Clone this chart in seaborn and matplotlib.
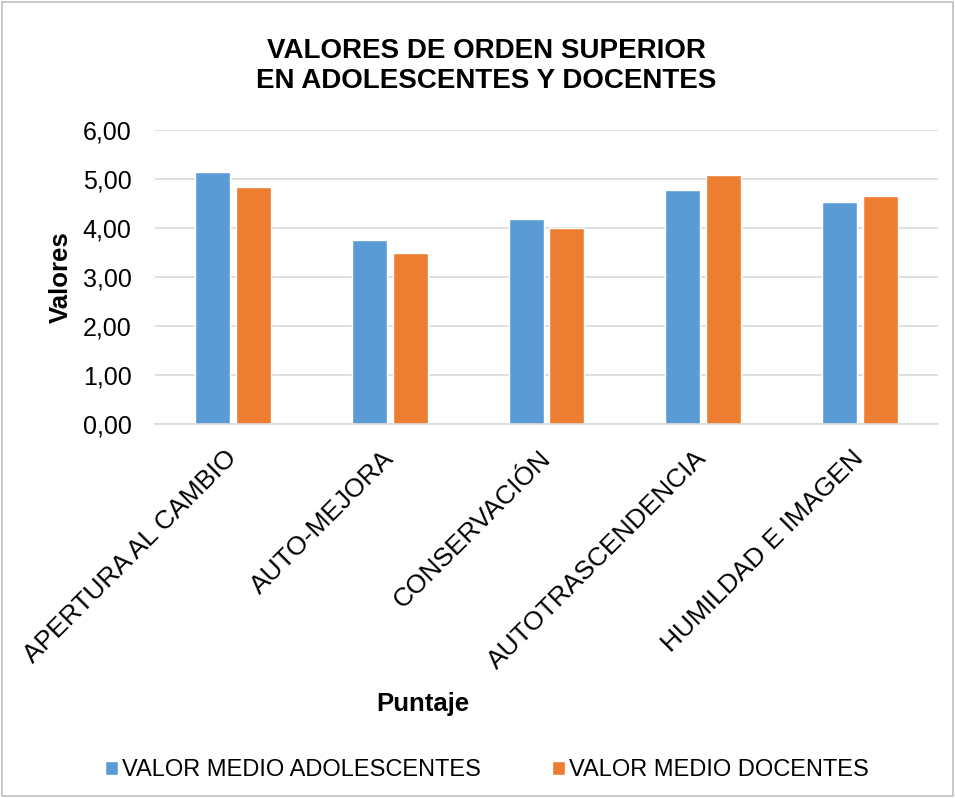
import pandas as pd
import matplotlib.pyplot as plt
import seaborn as sns
from matplotlib.patches import Rectangle

# --- DATA ---
categorias = ["APERTURA AL CAMBIO", "AUTO-MEJORA", "CONSERVACIÓN",
              "AUTOTRASCENDENCIA", "HUMILDAD E IMAGEN"]
adolescentes = [5.14, 3.75, 4.19, 4.77, 4.54]
docentes = [4.83, 3.50, 4.00, 5.09, 4.66]
series = ["VALOR MEDIO ADOLESCENTES", "VALOR MEDIO DOCENTES"]
ticks_y = [0, 1, 2, 3, 4, 5, 6]

df = pd.DataFrame({
    "categoria": categorias * 2,
    "valor": adolescentes + docentes,
    "serie": [series[0]] * len(categorias) + [series[1]] * len(categorias),
})

sns.set_theme(style="white")
plt.rcParams['font.family'] = ['Liberation Sans', 'DejaVu Sans']
plt.rcParams['text.color'] = 'black'
plt.rcParams['axes.labelcolor'] = 'black'

fig = plt.figure(figsize=(9.55, 7.98), dpi=100)
# plot area placed in pixels of the 955x798 canvas
ax = fig.add_axes([155 / 955, 1 - 424 / 798, 783 / 955, 294 / 798])

colores = ["#5B9BD5", "#ED7D31"]
sns.barplot(data=df, x="categoria", y="valor", hue="serie", palette=colores,
            saturation=1, width=0.52, gap=0.14, ax=ax, legend=True)

ax.set_ylim(0, 6)
ax.set_yticks(ticks_y)
ax.set_yticklabels([f"{v:.2f}".replace(".", ",") for v in ticks_y], fontsize=18)
ax.yaxis.grid(True, color="#D9D9D9", linewidth=1.2)
ax.set_axisbelow(True)
for s in ["top", "right", "left"]:
    ax.spines[s].set_visible(False)
ax.spines["bottom"].set_color("#D9D9D9")
ax.spines["bottom"].set_linewidth(1.2)
ax.tick_params(axis="y", length=0, pad=17, colors="black")
ax.tick_params(axis="x", length=0, pad=22, colors="black")

ax.set_xticks(range(len(categorias)))
ax.set_xticklabels(categorias, rotation=45, ha="right", va="center",
                   rotation_mode="anchor", fontsize=19)

ax.set_ylabel("Valores", fontsize=18.5, fontweight="bold")
ax.yaxis.set_label_coords(-0.105, 0.5)
ax.set_xlabel("Puntaje", fontsize=18.5, fontweight="bold")
ax.xaxis.set_label_coords(0.342, -0.91)

fig.suptitle("VALORES DE ORDEN SUPERIOR\nEN ADOLESCENTES Y DOCENTES",
             x=486 / 955, y=1 - 38 / 798, fontsize=20, fontweight="bold", va="top",
             linespacing=1.2, color="black")

handles, labels = ax.get_legend_handles_labels()
ax.legend(handles, labels, loc="center", bbox_to_anchor=(487 / 955, 1 - 770 / 798),
          bbox_transform=fig.transFigure, ncol=2, frameon=False, fontsize=17,
          handlelength=0.55, handleheight=0.55, handletextpad=0.17, columnspacing=3.0,
          borderpad=0)

# outer border of the chart
fig.patches.append(Rectangle((0.002, 0.002), 0.996, 0.996, transform=fig.transFigure,
                             fill=False, edgecolor="#BFBFBF", linewidth=1.2))

plt.savefig("out.png", dpi=100)
plt.close()
